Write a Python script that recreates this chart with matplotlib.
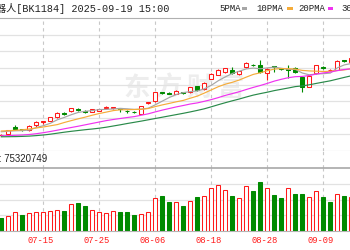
import numpy as np
import matplotlib
matplotlib.use('Agg')
import matplotlib.pyplot as plt
from matplotlib.patches import Rectangle
from matplotlib.transforms import blended_transform_factory

# Daily K-line data (index points), 07-07 .. 09-15
DATES = ['07-07', '07-08', '07-09', '07-10', '07-11', '07-14', '07-15', '07-16', '07-17', '07-18',
         '07-21', '07-22', '07-23', '07-24', '07-25', '07-28', '07-29', '07-30', '07-31', '08-01',
         '08-04', '08-05', '08-06', '08-07', '08-08', '08-11', '08-12', '08-13', '08-14', '08-15',
         '08-18', '08-19', '08-20', '08-21', '08-22', '08-25', '08-26', '08-27', '08-28', '08-29',
         '09-01', '09-02', '09-03', '09-04', '09-05', '09-08', '09-09', '09-10', '09-11', '09-12',
         '09-15']
OPEN = [2323.5, 2328.5, 2363.5, 2353.5, 2350, 2375, 2391, 2396.5, 2413.5, 2436.5,
        2445, 2455, 2444, 2441.5, 2447.5, 2460, 2462.5, 2460, 2446.5, 2442.5,
        2430, 2485, 2493.5, 2539, 2536.5, 2531.5, 2541, 2538.5, 2570, 2553.5,
        2605, 2626.5, 2638.5, 2652.5, 2628.5, 2663.5, 2677.5, 2675, 2633.5, 2670,
        2658.5, 2653.5, 2661.5, 2613.5, 2566.5, 2633.5, 2666.5, 2649, 2650, 2699,
        2692.5]
CLOSE = [2326.5, 2350, 2353.5, 2348.5, 2370, 2391.5, 2394, 2413.5, 2436.5, 2430,
         2458.5, 2451.5, 2441, 2453.5, 2455, 2463.5, 2465, 2453.5, 2443.5, 2440,
         2470, 2488.5, 2538.5, 2536, 2530, 2543.5, 2537.5, 2563.5, 2550, 2586.5,
         2630, 2651.5, 2660, 2633.5, 2645, 2686.5, 2673.5, 2641.5, 2656.5, 2665,
         2655, 2650, 2638.5, 2566.5, 2620, 2675, 2658.5, 2651.5, 2696.5, 2695,
         2710]
HIGH = [2330, 2352.5, 2375, 2356, 2375, 2396.5, 2395, 2415, 2438.5, 2440,
        2460, 2460, 2448.5, 2455, 2456.5, 2468.5, 2466, 2461.5, 2450, 2446.5,
        2471.5, 2491.5, 2541.5, 2541.5, 2538.5, 2548.5, 2542.5, 2566.5, 2572.5, 2588.5,
        2633.5, 2655, 2662.5, 2666.5, 2646.5, 2691.5, 2680, 2700, 2658.5, 2672.5,
        2661.5, 2675, 2663.5, 2616.5, 2621.5, 2676.5, 2668.5, 2656.5, 2698.5, 2701,
        2712.5]
LOW = [2320, 2326, 2350, 2346, 2347.5, 2365, 2382.5, 2395, 2411.5, 2427.5,
       2442.5, 2447.5, 2436.5, 2440, 2445, 2456.5, 2453.5, 2441.5, 2436.5, 2435.5,
       2428.5, 2482.5, 2491.5, 2528.5, 2528.5, 2530, 2528.5, 2537.5, 2547.5, 2551.5,
       2603.5, 2625, 2637.5, 2630, 2626.5, 2662.5, 2671.5, 2633.5, 2600, 2641.5,
       2651.5, 2608.5, 2636.5, 2541.5, 2563.5, 2631.5, 2656.5, 2646.5, 2648.5, 2688.5,
       2690]

# Moving averages as drawn on the chart
MA5 = [2341, 2344, 2346, 2347, 2349.5, 2362.5, 2371.5, 2383.5, 2401, 2413,
       2426.5, 2438, 2443.5, 2447, 2452, 2453, 2455.5, 2458, 2456, 2453,
       2454.5, 2459, 2476, 2494.5, 2512.5, 2527.5, 2537, 2542, 2545, 2556,
       2573.5, 2596.5, 2615.5, 2632.5, 2644, 2655.5, 2659.5, 2656, 2660.5, 2664.5,
       2658.5, 2653.5, 2653, 2635, 2626, 2630, 2631.5, 2634.5, 2660.5, 2675.5,
       2682.5]
MA10 = [2345, 2346.5, 2348.5, 2351, 2355, 2360, 2365, 2371, 2377, 2387.5,
        2397, 2406, 2414.5, 2424, 2432.5, 2439.5, 2447, 2451, 2451.5, 2452.5,
        2453.5, 2457.5, 2467, 2475.5, 2483, 2491, 2498, 2509, 2519.5, 2534.5,
        2550.5, 2566.5, 2579, 2588.5, 2600, 2614.5, 2628, 2636, 2646.5, 2654.5,
        2657, 2656.5, 2654.5, 2648, 2645.5, 2644, 2642.5, 2643.5, 2647.5, 2650.5,
        2656]
MA20 = [2321, 2322, 2323.5, 2325, 2327.5, 2331.5, 2336.5, 2342.5, 2349, 2356,
        2362.5, 2369, 2376, 2383, 2390, 2397, 2402.5, 2407.5, 2412.5, 2417,
        2424, 2431, 2440.5, 2449.5, 2457.5, 2465.5, 2472.5, 2480, 2485.5, 2493.5,
        2502, 2512, 2523, 2532, 2541.5, 2552.5, 2563, 2572.5, 2583, 2594.5,
        2603.5, 2611.5, 2616.5, 2618, 2622.5, 2629.5, 2635.5, 2639.5, 2647, 2652.5,
        2656.5]
MA30 = [2316, 2316.5, 2317, 2318, 2319.5, 2322, 2325, 2329, 2334, 2339,
        2343.5, 2347.5, 2351.5, 2355, 2359, 2364, 2370, 2376, 2382.5, 2388.5,
        2394.5, 2401, 2407.5, 2414, 2420.5, 2427, 2433.5, 2440.5, 2448, 2456,
        2466, 2476.5, 2486.5, 2496, 2505, 2515, 2524.5, 2532, 2539, 2547,
        2553.5, 2560, 2567, 2570.5, 2576, 2583, 2589.5, 2596, 2604.5, 2613,
        2621]

# Volume (millions) and its colour flag (1 = up / red, 0 = down / green)
VOLUME = [24.8, 30, 38, 30.8, 36, 37.4, 37.4, 40, 41.4, 40,
          52.8, 54.8, 48.8, 41.4, 37.4, 36, 39.4, 38, 38, 30.8,
          32.8, 37.4, 65.4, 69.4, 56.8, 58, 50, 59.4, 68, 70,
          84.8, 92, 80.8, 70, 64.8, 90, 79.4, 98, 84.8, 72,
          65.4, 84.8, 72.8, 72.8, 66.8, 79.4, 66.8, 58, 72.8, 70,
          68]
VOL_UP = [0, 1, 1, 0, 1, 1, 1, 1, 1, 0,
          1, 0, 0, 1, 1, 1, 1, 0, 0, 0,
          1, 1, 1, 0, 0, 1, 0, 1, 0, 1,
          1, 1, 1, 0, 1, 1, 0, 0, 1, 0,
          0, 1, 0, 0, 1, 1, 0, 0, 1, 0,
          1]
TICK_DATES = ['07-15', '07-25', '08-06', '08-18', '08-28', '09-09']
TITLE = '器人[BK1184] 2025-09-19 15:00'
VOL_TEXT = ': 75320749'
MA_NAMES = ['5PMA', '10PMA', '20PMA', '30PMA']

RED = '#ff1a1a'
GREEN = '#008a00'
MA_COLORS = ['#a6a6a6', '#f5ac3a', '#f032f0', '#2a8a4a']
GRID = '#e2e2e2'
DASH = '#c8c8c8'
W, H = 350, 250
MONO = ['Liberation Mono', 'Noto Sans CJK SC']


def fx(px):
    return px / W


def fy(py):
    return 1 - py / H


fig = plt.figure(figsize=(3.5, 2.5), dpi=100)
fig.patch.set_facecolor('white')

x = np.arange(len(DATES))
xlim = (-1.3 / 7, (W - 1.3) / 7)
ticks = [DATES.index(d) for d in TICK_DATES]

ax = fig.add_axes([0, fy(150.7), 1, fy(18.3) - fy(150.7)])
band = fig.add_axes([0, fy(168.3), 1, fy(150.7) - fy(168.3)])
axv = fig.add_axes([0, fy(230.7), 1, fy(168.3) - fy(230.7)])

for a in (ax, band, axv):
    a.set_xlim(*xlim)
    a.set_xticks([])
    a.set_yticks([])
    for s in a.spines.values():
        s.set_visible(False)
    for t in ticks:
        a.axvline(t, color=DASH, lw=0.8, ls=(0, (3, 3)), zorder=0.6)
band.set_ylim(0, 1)

# price panel
ax.set_ylim(2246.5, 2908.5)
for g in np.linspace(2246.5, 2908.5, 9)[1:-1]:
    ax.axhline(g, color=GRID, lw=0.9, zorder=0.5)
ax.spines['top'].set_visible(True)
ax.spines['top'].set_color('#b0b0b0')
ax.spines['bottom'].set_visible(True)
ax.spines['bottom'].set_color('#c4c4c4')

# watermark
for ch, cx in zip('东方财富', [137, 168, 199, 230]):
    ax.text(fx(cx), fy(88), ch, transform=fig.transFigure, ha='center', va='center',
            fontsize=19, fontweight='bold', color='#ededed',
            family='Noto Sans CJK SC', zorder=0.4)

o = np.array(OPEN)
c = np.array(CLOSE)
hi = np.array(HIGH)
lo = np.array(LOW)
up = c >= o
top = np.maximum(o, c)
bot = np.minimum(o, c)

ax.vlines(x[~up], lo[~up], hi[~up], color=GREEN, lw=0.8, zorder=2)
ax.vlines(x[up], top[up], hi[up], color=RED, lw=0.8, zorder=2)
ax.vlines(x[up], lo[up], bot[up], color=RED, lw=0.8, zorder=2)
ax.bar(x[up], (top - bot)[up], bottom=bot[up], width=0.6, facecolor='white',
       edgecolor=RED, linewidth=0.75, zorder=2.5)
ax.bar(x[~up], (top - bot)[~up], bottom=bot[~up], width=0.6, facecolor=GREEN,
       edgecolor=GREEN, linewidth=0.75, zorder=2.5)

for ma, col in zip([MA5, MA10, MA20, MA30], MA_COLORS):
    ax.plot(x, ma, color=col, lw=0.85, zorder=3)

# volume panel
axv.set_ylim(0, 124.8)
for g in np.linspace(0, 124.8, 5)[1:-1]:
    axv.axhline(g, color=GRID, lw=0.9, zorder=0.5)
axv.spines['top'].set_visible(True)
axv.spines['top'].set_color('#a8a8a8')
axv.spines['top'].set_linewidth(1.2)
axv.spines['bottom'].set_visible(True)
axv.spines['bottom'].set_color('#b4b4b4')

vu = np.array(VOL_UP) == 1
v = np.array(VOLUME)
axv.bar(x[vu], v[vu], width=0.6, facecolor='white', edgecolor=RED, linewidth=0.75, zorder=2)
axv.bar(x[~vu], v[~vu], width=0.6, facecolor=GREEN, edgecolor=GREEN, linewidth=0.75, zorder=2)

tr = blended_transform_factory(axv.transData, axv.transAxes)
for t, d in zip(ticks, TICK_DATES):
    axv.text(t - 2.5 / 7, -0.15, d, transform=tr, ha='center', va='center',
             fontsize=6.3, color=RED, family='Liberation Mono', clip_on=False)

band.text(fx(-1), 0.5, VOL_TEXT, transform=blended_transform_factory(fig.transFigure, band.transAxes),
          ha='left', va='center', fontsize=6.9, color='#222222', family='Liberation Sans')

# header
fig.text(fx(-4.4), fy(8.5), TITLE, ha='left', va='center', fontsize=7.3,
         color='#222222', family=MONO)
for name, col, tx, rx in zip(MA_NAMES, MA_COLORS, [219.3, 256.7, 298.3, 341.0],
                             [241.7, 287.3, 327.7, 372.0]):
    fig.text(fx(tx), fy(8.5), name, ha='left', va='center', fontsize=6.5,
             color='#222222', family='Liberation Mono')
    fig.patches.append(Rectangle((fx(rx), fy(10)), fx(5.5), 3.2 / H,
                                 transform=fig.transFigure, facecolor=col,
                                 edgecolor='none'))

fig.savefig('out.png', dpi=100)
